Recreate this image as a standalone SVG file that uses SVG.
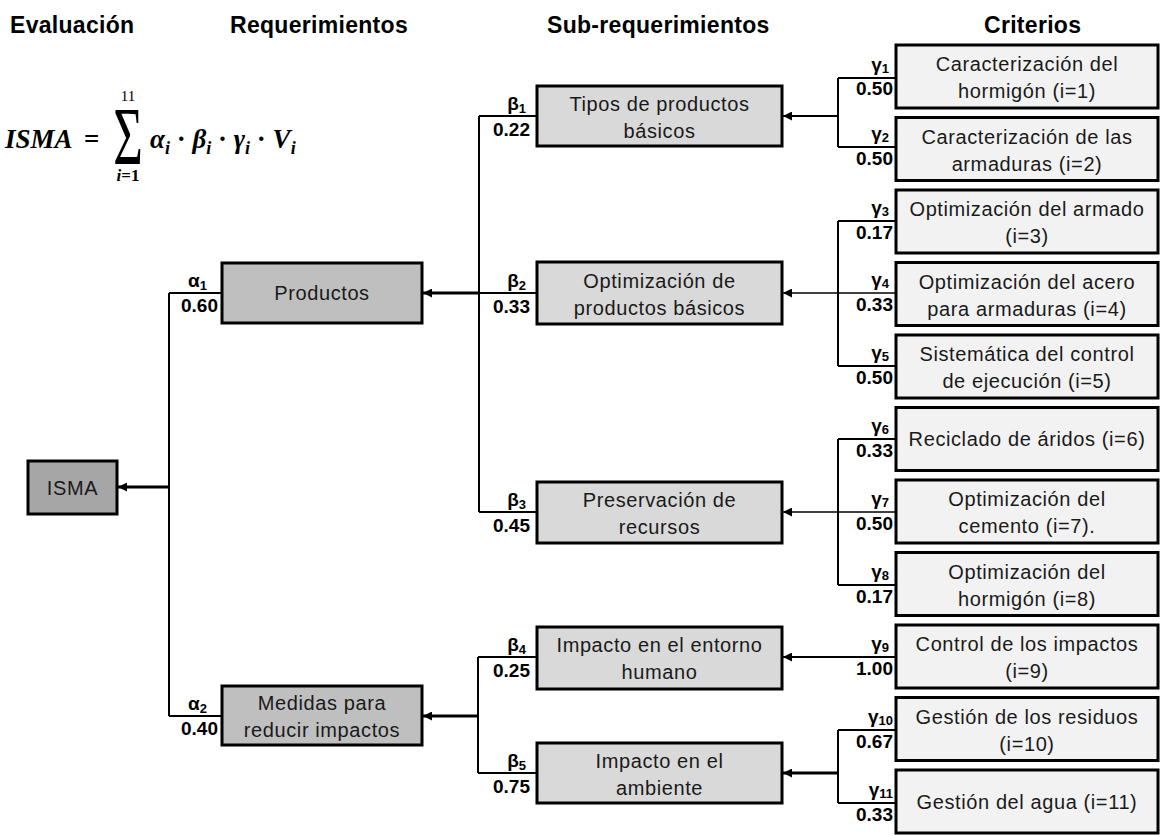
<svg xmlns="http://www.w3.org/2000/svg" width="1161" height="835" viewBox="0 0 1161 835">
<style>
.hdr{font-family:"Liberation Sans",Arial,sans-serif;font-weight:bold;font-size:23px;letter-spacing:0.3px;fill:#000}
.box{stroke:#000;stroke-width:3}
.isma{fill:#a6a6a6}
.req{fill:#bfbfbf}
.sub{fill:#d9d9d9}
.crit{fill:#f2f2f2}
.bt{font-family:"Liberation Sans",Arial,sans-serif;font-size:20px;letter-spacing:0.6px;fill:#1a1a1a;text-anchor:middle}
.lbl{font-family:"Liberation Sans",Arial,sans-serif;font-weight:bold;font-size:19px;fill:#000;text-anchor:end}
.sb{font-size:13px}
.ln{stroke:#000;stroke-width:2;fill:none}
.thin{stroke:#000;stroke-width:1.5;fill:none}
.thick{stroke:#000;stroke-width:3;fill:none}
.m{font-family:"Liberation Serif","Times New Roman",serif;fill:#000}
</style>
<defs>
<marker id="ah" viewBox="0 0 10 10" refX="10" refY="5" markerWidth="9" markerHeight="9" markerUnits="userSpaceOnUse" orient="auto">
<path d="M0,0 L10,5 L0,10 z" fill="#000"/>
</marker>
</defs>
<rect width="1161" height="835" fill="#fff"/>

<g id="headers">
<text class="hdr" x="10" y="33">Evaluación</text>
<text class="hdr" x="230" y="33">Requerimientos</text>
<text class="hdr" x="547" y="33">Sub-requerimientos</text>
<text class="hdr" x="984" y="33">Criterios</text>
</g>

<g id="formula">
<text class="m" x="5" y="148" font-size="27" font-style="italic" font-weight="bold">ISMA</text>
<text class="m" x="84" y="148" font-size="27" font-weight="bold">=</text>
<text class="m" x="128" y="101" font-size="15" text-anchor="middle">11</text>
<g transform="translate(128,164) scale(0.62,1)"><text class="m" x="0" y="0" font-size="82" text-anchor="middle">Σ</text></g>
<text class="m" x="128" y="181" font-size="17" text-anchor="middle" font-weight="bold"><tspan font-style="italic">i</tspan>=1</text>
<text class="m" x="150" y="148" font-size="27" font-style="italic" font-weight="bold">α<tspan font-size="18" dy="6">i</tspan><tspan dy="-6" font-style="normal"> · </tspan>β<tspan font-size="18" dy="6">i</tspan><tspan dy="-6" font-style="normal"> · </tspan>γ<tspan font-size="18" dy="6">i</tspan><tspan dy="-6" font-style="normal"> · </tspan>V<tspan font-size="18" dy="6">i</tspan></text>
</g>

<g id="connectors">
<line class="ln" x1="169" y1="293" x2="169" y2="716"/>
<line class="ln" x1="169" y1="293" x2="222" y2="293"/>
<line class="ln" x1="169" y1="716" x2="222" y2="716"/>
<line class="thick" x1="169" y1="487" x2="118" y2="487" marker-end="url(#ah)"/>
<line class="ln" x1="479" y1="116" x2="479" y2="512"/>
<line class="ln" x1="479" y1="116" x2="537" y2="116"/>
<line class="ln" x1="479" y1="512" x2="537" y2="512"/>
<line class="ln" x1="537" y1="293" x2="479" y2="293"/>
<line class="thick" x1="479" y1="293" x2="423" y2="293" marker-end="url(#ah)"/>
<line class="ln" x1="478" y1="657" x2="478" y2="773"/>
<line class="ln" x1="478" y1="657" x2="537" y2="657"/>
<line class="ln" x1="478" y1="773" x2="537" y2="773"/>
<line class="thick" x1="478" y1="716" x2="423" y2="716" marker-end="url(#ah)"/>
<line class="ln" x1="838" y1="78" x2="838" y2="147"/>
<line class="ln" x1="838" y1="78" x2="896" y2="78"/>
<line class="ln" x1="838" y1="147" x2="896" y2="147"/>
<line class="ln" x1="838" y1="116" x2="783" y2="116" marker-end="url(#ah)"/>
<line class="ln" x1="838" y1="221" x2="838" y2="366"/>
<line class="ln" x1="838" y1="221" x2="896" y2="221"/>
<line class="ln" x1="838" y1="366" x2="896" y2="366"/>
<line class="thin" x1="898" y1="293" x2="783" y2="293" marker-end="url(#ah)"/>
<line class="ln" x1="838" y1="439" x2="838" y2="585"/>
<line class="ln" x1="838" y1="439" x2="896" y2="439"/>
<line class="ln" x1="838" y1="585" x2="896" y2="585"/>
<line class="thin" x1="898" y1="512" x2="783" y2="512" marker-end="url(#ah)"/>
<line class="ln" x1="898" y1="657" x2="783" y2="657" marker-end="url(#ah)"/>
<line class="ln" x1="838" y1="730" x2="838" y2="803"/>
<line class="ln" x1="838" y1="730" x2="896" y2="730"/>
<line class="ln" x1="838" y1="803" x2="896" y2="803"/>
<line class="thick" x1="838" y1="773" x2="783" y2="773" marker-end="url(#ah)"/>
</g>

<g id="weights">
<text class="lbl" x="207" y="287">α<tspan class="sb" dy="3">1</tspan></text>
<text class="lbl" x="218" y="312">0.60</text>
<text class="lbl" x="207" y="710">α<tspan class="sb" dy="3">2</tspan></text>
<text class="lbl" x="218" y="735">0.40</text>

<text class="lbl" x="526" y="110">β<tspan class="sb" dy="3">1</tspan></text>
<text class="lbl" x="530" y="136">0.22</text>
<text class="lbl" x="526" y="287">β<tspan class="sb" dy="3">2</tspan></text>
<text class="lbl" x="530" y="313">0.33</text>
<text class="lbl" x="526" y="506">β<tspan class="sb" dy="3">3</tspan></text>
<text class="lbl" x="530" y="532">0.45</text>
<text class="lbl" x="526" y="651">β<tspan class="sb" dy="3">4</tspan></text>
<text class="lbl" x="530" y="677">0.25</text>
<text class="lbl" x="526" y="767">β<tspan class="sb" dy="3">5</tspan></text>
<text class="lbl" x="530" y="793">0.75</text>

<text class="lbl" x="889" y="71">γ<tspan class="sb" dy="2">1</tspan></text>
<text class="lbl" x="893" y="95">0.50</text>
<text class="lbl" x="889" y="140">γ<tspan class="sb" dy="2">2</tspan></text>
<text class="lbl" x="893" y="165">0.50</text>
<text class="lbl" x="889" y="214">γ<tspan class="sb" dy="2">3</tspan></text>
<text class="lbl" x="893" y="239">0.17</text>
<text class="lbl" x="889" y="286">γ<tspan class="sb" dy="2">4</tspan></text>
<text class="lbl" x="893" y="311">0.33</text>
<text class="lbl" x="889" y="359">γ<tspan class="sb" dy="2">5</tspan></text>
<text class="lbl" x="893" y="384">0.50</text>
<text class="lbl" x="889" y="432">γ<tspan class="sb" dy="2">6</tspan></text>
<text class="lbl" x="893" y="457">0.33</text>
<text class="lbl" x="889" y="505">γ<tspan class="sb" dy="2">7</tspan></text>
<text class="lbl" x="893" y="530">0.50</text>
<text class="lbl" x="889" y="578">γ<tspan class="sb" dy="2">8</tspan></text>
<text class="lbl" x="893" y="603">0.17</text>
<text class="lbl" x="889" y="650">γ<tspan class="sb" dy="2">9</tspan></text>
<text class="lbl" x="893" y="675">1.00</text>
<text class="lbl" x="893" y="723">γ<tspan class="sb" dy="2">10</tspan></text>
<text class="lbl" x="893" y="748">0.67</text>
<text class="lbl" x="893" y="796">γ<tspan class="sb" dy="2">11</tspan></text>
<text class="lbl" x="893" y="821">0.33</text>
</g>

<g id="n-isma"><rect class="box isma" x="28" y="461" width="89" height="53"/><text class="bt" x="72.5" y="495">ISMA</text></g>

<g id="n-productos"><rect class="box req" x="222" y="263" width="200" height="60"/><text class="bt" x="322" y="300">Productos</text></g>
<g id="n-medidas"><rect class="box req" x="222" y="686" width="200" height="59"/><text class="bt" x="322" y="710">Medidas para</text><text class="bt" x="322" y="737">reducir impactos</text></g>

<g id="n-tipos"><rect class="box sub" x="537" y="86" width="245" height="60"/><text class="bt" x="659.5" y="111">Tipos de productos</text><text class="bt" x="659.5" y="138">básicos</text></g>
<g id="n-optprod"><rect class="box sub" x="537" y="262" width="245" height="62"/><text class="bt" x="659.5" y="288">Optimización de</text><text class="bt" x="659.5" y="315">productos básicos</text></g>
<g id="n-preserv"><rect class="box sub" x="537" y="482" width="245" height="61"/><text class="bt" x="659.5" y="507">Preservación de</text><text class="bt" x="659.5" y="534">recursos</text></g>
<g id="n-humano"><rect class="box sub" x="537" y="627" width="245" height="62"/><text class="bt" x="659.5" y="652">Impacto en el entorno</text><text class="bt" x="659.5" y="679">humano</text></g>
<g id="n-ambiente"><rect class="box sub" x="537" y="743" width="245" height="60"/><text class="bt" x="659.5" y="768">Impacto en el</text><text class="bt" x="659.5" y="795">ambiente</text></g>

<g id="c1"><rect class="box crit" x="896" y="45" width="262" height="63"/><text class="bt" x="1027" y="71">Caracterización del</text><text class="bt" x="1027" y="98">hormigón (i=1)</text></g>
<g id="c2"><rect class="box crit" x="896" y="117.5" width="262" height="63"/><text class="bt" x="1027" y="144">Caracterización de las</text><text class="bt" x="1027" y="171">armaduras (i=2)</text></g>
<g id="c3"><rect class="box crit" x="896" y="190" width="262" height="63"/><text class="bt" x="1027" y="216">Optimización del armado</text><text class="bt" x="1027" y="243">(i=3)</text></g>
<g id="c4"><rect class="box crit" x="896" y="262.5" width="262" height="63"/><text class="bt" x="1027" y="289">Optimización del acero</text><text class="bt" x="1027" y="316">para armaduras (i=4)</text></g>
<g id="c5"><rect class="box crit" x="896" y="335" width="262" height="63"/><text class="bt" x="1027" y="361">Sistemática del control</text><text class="bt" x="1027" y="388">de ejecución (i=5)</text></g>
<g id="c6"><rect class="box crit" x="896" y="407.5" width="262" height="63"/><text class="bt" x="1027" y="446">Reciclado de áridos (i=6)</text></g>
<g id="c7"><rect class="box crit" x="896" y="480" width="262" height="63"/><text class="bt" x="1027" y="506">Optimización del</text><text class="bt" x="1027" y="533">cemento (i=7).</text></g>
<g id="c8"><rect class="box crit" x="896" y="552.5" width="262" height="63"/><text class="bt" x="1027" y="579">Optimización del</text><text class="bt" x="1027" y="606">hormigón (i=8)</text></g>
<g id="c9"><rect class="box crit" x="896" y="625" width="262" height="63"/><text class="bt" x="1027" y="651">Control de los impactos</text><text class="bt" x="1027" y="678">(i=9)</text></g>
<g id="c10"><rect class="box crit" x="896" y="697.5" width="262" height="63"/><text class="bt" x="1027" y="724">Gestión de los residuos</text><text class="bt" x="1027" y="751">(i=10)</text></g>
<g id="c11"><rect class="box crit" x="896" y="770" width="262" height="63"/><text class="bt" x="1027" y="809">Gestión del agua (i=11)</text></g>
</svg>
